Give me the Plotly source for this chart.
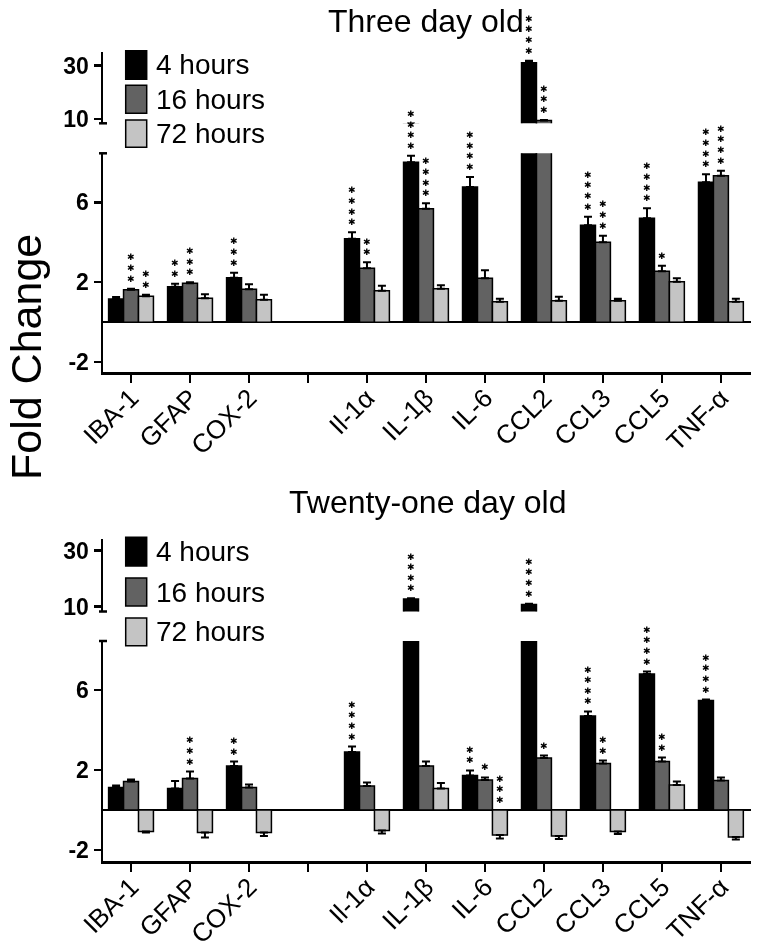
import plotly.graph_objects as go

W, H = 762, 950
FONT = "Liberation Sans, Arial, Helvetica, sans-serif"

# ---------------- data ----------------
categories = ["IBA-1", "GFAP", "COX-2", "", "Il-1α", "IL-1β", "IL-6", "CCL2", "CCL3", "CCL5", "TNF-α"]
series_names = ["4 hours", "16 hours", "72 hours"]
series_colors = ["#000000", "#626262", "#c4c4c4"]

# Three day old
three_4h = [1.16, 1.78, 2.23, None, 4.18, 8.0, 6.77, 31.1, 4.85, 5.2, 7.0]
three_4h_err = [0.10, 0.14, 0.25, 0, 0.32, 0.33, 0.5, 0.8, 0.43, 0.5, 0.4]
three_16h = [1.63, 1.95, 1.65, None, 2.7, 5.67, 2.2, 9.4, 4.0, 2.55, 7.33]
three_16h_err = [0.05, 0.05, 0.25, 0, 0.3, 0.28, 0.4, 0.2, 0.33, 0.27, 0.25]
three_72h = [1.3, 1.2, 1.13, None, 1.57, 1.68, 1.02, 1.07, 1.07, 2.02, 1.02]
three_72h_err = [0.07, 0.2, 0.24, 0, 0.25, 0.17, 0.15, 0.21, 0.11, 0.18, 0.15]
three_stars_4h = [0, 2, 3, 0, 4, 4, 4, 4, 4, 4, 4]
three_stars_16h = [3, 3, 0, 0, 2, 4, 0, 3, 3, 1, 4]
three_stars_72h = [2, 0, 0, 0, 0, 0, 0, 0, 0, 0, 0]

# Twenty-one day old
tw_4h = [1.13, 1.07, 2.2, None, 2.9, 12.75, 1.73, 10.8, 4.7, 6.8, 5.48]
tw_4h_err = [0.1, 0.38, 0.22, 0, 0.27, 0.25, 0.25, 0.3, 0.23, 0.12, 0.04]
tw_16h = [1.43, 1.58, 1.12, None, 1.2, 2.2, 1.5, 2.6, 2.33, 2.43, 1.48]
tw_16h_err = [0.09, 0.34, 0.16, 0, 0.17, 0.22, 0.13, 0.12, 0.14, 0.19, 0.15]
tw_72h = [-1.08, -1.12, -1.12, None, -1.03, 1.07, -1.25, -1.3, -1.08, 1.25, -1.35]
tw_72h_err = [0.04, 0.26, 0.18, 0, 0.14, 0.28, 0.17, 0.15, 0.12, 0.17, 0.13]
tw_stars_4h = [0, 0, 2, 0, 4, 4, 2, 4, 4, 4, 4]
tw_stars_16h = [0, 3, 0, 0, 0, 0, 1, 1, 2, 2, 0]
tw_stars_72h = [0, 0, 0, 0, 0, 0, 3, 0, 0, 0, 0]

lower_ticks = [-2, 2, 6]
upper_ticks = [10, 30]

# ---------------- layout geometry (pixels) ----------------
def px(x):
    return x / W

def py(y):
    return 1 - y / H

X_LEFT, X_RIGHT = 103, 751
BARGAP = 0.24
BW = (1 - BARGAP) / 3
STAR_TEXT = "✱"
STAR_FONT = "DejaVu Sans"
STAR_SIZE = 9
STAR_STEP = 10.6

panels = [
    dict(title="Three day old", title_xy=(426, 21),
         series=[(three_4h, three_4h_err, three_stars_4h),
                 (three_16h, three_16h_err, three_stars_16h),
                 (three_72h, three_72h_err, three_stars_72h)],
         xa="x", ylo="y", yhi="y2",
         lo_px=(372, 153.3), lo_range=[-2.49, 8.45],
         hi_px=(123.3, 52), hi_range=[8.39, 35.14],
         legend_rows=[(50.7, 79.3), (85.3, 113.3), (120, 147.3)]),
    dict(title="Twenty-one day old", title_xy=(428, 502),
         series=[(tw_4h, tw_4h_err, tw_stars_4h),
                 (tw_16h, tw_16h_err, tw_stars_16h),
                 (tw_72h, tw_72h_err, tw_stars_72h)],
         xa="x2", ylo="y3", yhi="y4",
         lo_px=(861, 641), lo_range=[-2.55, 8.45],
         hi_px=(611.5, 539.3), hi_range=[8.29, 34.07],
         legend_rows=[(537.3, 566), (578, 606), (618, 645.7)]),
]

xpos = list(range(len(categories)))

fig = go.Figure()
annotations = []
shapes = []

for p in panels:
    for si, (vals, errs, stars) in enumerate(p["series"]):
        up = [e if (v is not None and v >= 0) else 0 for v, e in zip(vals, errs)]
        dn = [e if (v is not None and v < 0) else 0 for v, e in zip(vals, errs)]
        for ya in (p["ylo"], p["yhi"]):
            fig.add_trace(go.Bar(
                x=xpos, y=vals, xaxis=p["xa"], yaxis=ya,
                name=series_names[si], showlegend=False,
                marker=dict(color=series_colors[si], line=dict(color="black", width=1.5)),
                error_y=dict(type="data", symmetric=False, array=up, arrayminus=dn,
                             color="black", thickness=2, width=4),
                hoverinfo="skip",
            ))
        # significance stars
        offset = (si - 1) * BW
        for i, (v, e, n) in enumerate(zip(vals, errs, stars)):
            if not n or v is None:
                continue
            base = v + e if v >= 0 else 0
            yref = p["yhi"] if base > p["lo_range"][1] else p["ylo"]
            for k in range(n):
                annotations.append(dict(
                    x=xpos[i] + offset, y=base, xref=p["xa"], yref=yref,
                    text=STAR_TEXT, showarrow=False, xanchor="center", yanchor="middle",
                    borderpad=0, yshift=10 + STAR_STEP * k,
                    font=dict(family=STAR_FONT, size=STAR_SIZE, color="black", weight="bold"),
                ))
    # title
    tx, ty = p["title_xy"]
    annotations.append(dict(x=px(tx), y=py(ty), xref="paper", yref="paper",
                            text=p["title"], showarrow=False, xanchor="center", yanchor="middle",
                            font=dict(family=FONT, size=32, color="black")))
    # legend (manual swatches)
    for si, (y0, y1) in enumerate(p["legend_rows"]):
        shapes.append(dict(type="rect", xref="paper", yref="paper",
                           x0=px(125.7), x1=px(146.7), y0=py(y1), y1=py(y0),
                           fillcolor=series_colors[si], line=dict(color="black", width=1.5)))
        annotations.append(dict(x=px(154), y=py((y0 + y1) / 2), xref="paper", yref="paper",
                                text=series_names[si], showarrow=False, xanchor="left",
                                yanchor="middle", font=dict(family=FONT, size=28, color="black")))
    # axis break caps
    for yy in (p["hi_px"][0], p["lo_px"][1]):
        shapes.append(dict(type="line", xref="paper", yref="paper",
                           x0=px(X_LEFT - 4), x1=px(X_LEFT + 4), y0=py(yy), y1=py(yy),
                           line=dict(color="black", width=2.5)))

annotations.append(dict(x=px(26), y=py(357), xref="paper", yref="paper", text="Fold Change",
                        textangle=-90, showarrow=False, xanchor="center", yanchor="middle",
                        font=dict(family=FONT, size=43, color="black")))

xaxis_common = dict(
    domain=[px(X_LEFT), px(X_RIGHT)], range=[-0.475, 10.51],
    tickmode="array", tickvals=xpos, ticktext=categories, tickangle=-45,
    ticks="outside", ticklen=8, tickwidth=2.5, tickcolor="black",
    showline=True, linewidth=2.5, linecolor="black", showgrid=False, zeroline=False,
    tickfont=dict(family=FONT, size=26, color="black"), fixedrange=True,
    automargin=False, ticklabelstandoff=-10,
)

def yaxis_common(dom_px, rng, ticks, anchor, zero):
    return dict(
        domain=[py(dom_px[0]), py(dom_px[1])], range=rng, anchor=anchor,
        tickmode="array", tickvals=ticks, ticktext=[str(t) for t in ticks],
        ticks="outside", ticklen=7, tickwidth=2.5, tickcolor="black",
        showline=True, linewidth=2.5, linecolor="black", showgrid=False,
        zeroline=zero, zerolinecolor="black", zerolinewidth=2.5,
        tickfont=dict(family=FONT, size=23, color="black", weight="bold"),
        fixedrange=True, automargin=False,
    )

p0, p1 = panels
fig.update_layout(
    template="none",
    width=W, height=H,
    margin=dict(l=0, r=0, t=0, b=0, pad=0),
    paper_bgcolor="white", plot_bgcolor="white",
    barmode="group", bargap=BARGAP, bargroupgap=0,
    xaxis=dict(anchor="y", **xaxis_common),
    xaxis2=dict(anchor="y3", **xaxis_common),
    yaxis=yaxis_common(p0["lo_px"], p0["lo_range"], lower_ticks, "x", True),
    yaxis2=yaxis_common(p0["hi_px"], p0["hi_range"], upper_ticks, "x", False),
    yaxis3=yaxis_common(p1["lo_px"], p1["lo_range"], lower_ticks, "x2", True),
    yaxis4=yaxis_common(p1["hi_px"], p1["hi_range"], upper_ticks, "x2", False),
    annotations=annotations,
    shapes=shapes,
    font=dict(family=FONT, color="black"),
    showlegend=False,
)

fig.write_html(
    "out.html",
    config={"staticPlot": True},
    post_script=(
        "document.body.style.margin='0';document.body.style.padding='0';"
        "document.querySelectorAll('.main-svg').forEach(function(s){s.style.willChange='transform';});"
    ),
)
